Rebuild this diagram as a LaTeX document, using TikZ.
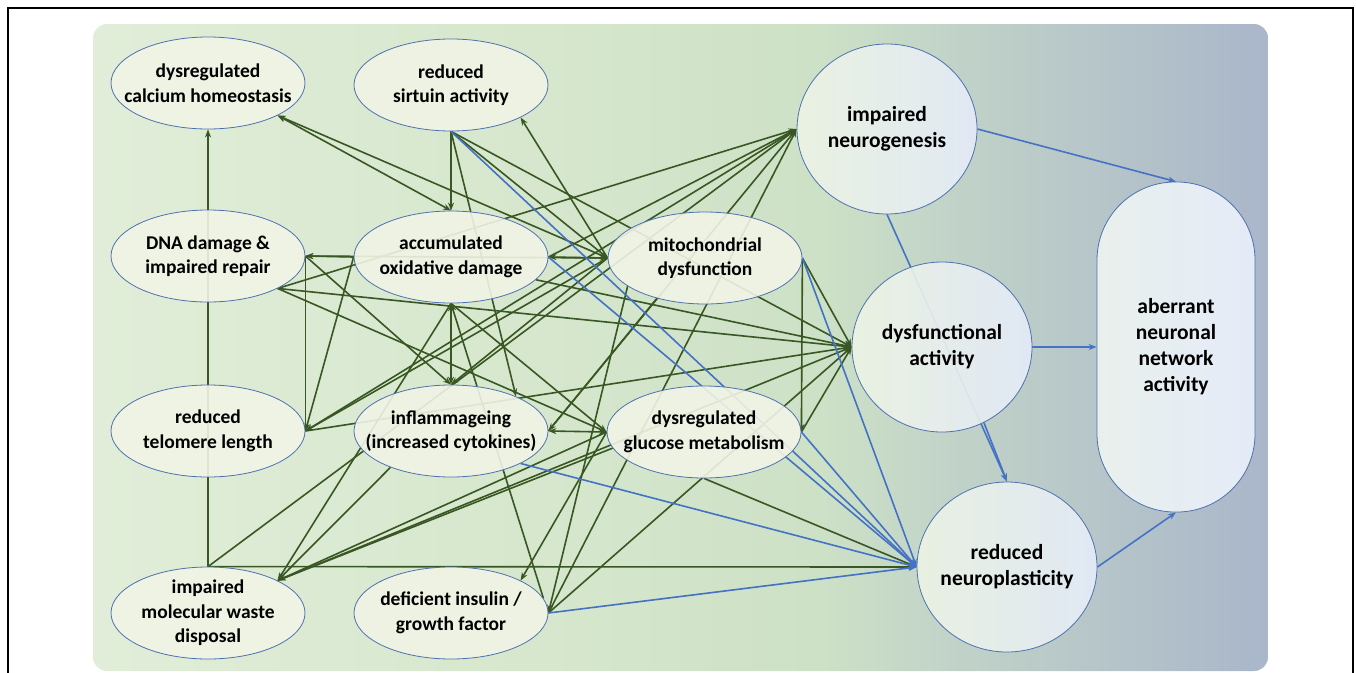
\documentclass[tikz,border=0pt]{standalone}
\usepackage{fontspec}
\setmainfont{Carlito}
\usetikzlibrary{shapes.geometric}
\usetikzlibrary{arrows.meta}

\definecolor{linkgreen}{RGB}{56,87,35}
\definecolor{linkblue}{RGB}{68,114,196}
\definecolor{ringblue}{RGB}{79,113,175}
\definecolor{hallfill}{RGB}{241,244,229}
\definecolor{outleft}{RGB}{236,243,228}
\definecolor{outright}{RGB}{228,235,248}
\definecolor{panelA}{RGB}{225,237,216}
\definecolor{panelB}{RGB}{214,231,205}
\definecolor{panelC}{RGB}{205,225,199}
\definecolor{panelD}{RGB}{192,210,200}
\definecolor{panelE}{RGB}{170,182,202}

\pgfdeclarehorizontalshading{panelshade}{100bp}{color(0bp)=(panelA); color(25bp)=(panelA);
  color(44bp)=(panelB); color(56bp)=(panelC); color(62bp)=(panelD); color(75bp)=(panelE);
  color(100bp)=(panelE)}

\pgfdeclarelayer{back}
\pgfdeclarelayer{edges}
\pgfsetlayers{back,edges,main}

\newcommand{\hmfont}{\fontsize{19.5}{24.5}\selectfont\bfseries}
\newcommand{\outfont}{\fontsize{21.5}{26}\selectfont\bfseries}

\tikzset{
  hallmark/.style = {ellipse, draw = ringblue, line width = 0.8pt, fill = hallfill,
    fill opacity = 0.9, minimum width = 194pt, minimum height = 92pt, inner sep = 0pt},
  outcome/.style = {ellipse, draw = ringblue, line width = 0.8pt, left color = outleft,
    right color = outright, fill opacity = 0.92, minimum width = 180pt,
    minimum height = 170pt, inner sep = 0pt},
  hmtext/.style = {font = \hmfont, align = center, text = black, text opacity = 1},
  outtext/.style = {font = \outfont, align = center, text = black, text opacity = 1},
  link/.style = {->, draw = linkgreen, line width = 1.6pt},
  bilink/.style = {<->, draw = linkgreen, line width = 1.6pt},
  blulink/.style = {->, draw = linkblue, line width = 1.6pt}
}

\begin{document}
\begin{tikzpicture}[x = 1pt, y = -1pt, >={Stealth[length = 8pt, width = 6pt]}]
  \useasboundingbox (0, 0) rectangle (1356, 672);

  \begin{pgfonlayer}{back}
    \draw[line width = 1.2pt] (8, 700) -- (8, 8) -- (1353, 8) -- (1353, 700);
    \shade[shading = panelshade, rounded corners = 14pt] (93, 24) rectangle (1268, 671);
  \end{pgfonlayer}

  % hallmarks
  \node[hallmark, label = {[hmtext]center:dysregulated\\calcium homeostasis}] (calc) at (208, 83) {};
  \node[hallmark, label = {[hmtext]center:reduced\\sirtuin activity}] (sirt) at (451, 85) {};
  \node[hallmark, label = {[hmtext]center:DNA damage \&\\impaired repair}] (dna) at (208, 256) {};
  \node[hallmark, label = {[hmtext]center:accumulated\\oxidative damage}] (oxid) at (451, 257) {};
  \node[hallmark, label = {[hmtext]center:mitochondrial\\dysfunction}] (mito) at (705, 258) {};
  \node[hallmark, label = {[hmtext]center:reduced\\telomere length}] (telo) at (208, 431) {};
  \node[hallmark, label = {[hmtext]center:inflammageing\\(increased cytokines)}] (infl) at (451, 431) {};
  \node[hallmark, label = {[hmtext]center:dysregulated\\glucose metabolism}] (gluc) at (704, 432) {};
  \node[hallmark, label = {[hmtext]center:impaired\\molecular waste\\disposal}] (waste) at (208, 613) {};
  \node[hallmark, label = {[hmtext]center:deficient insulin /\\growth factor}] (insul) at (451, 613) {};

  % outcomes
  \node[outcome, label = {[outtext]center:impaired\\neurogenesis}] (neurog) at (887, 129) {};
  \node[outcome, label = {[outtext]center:dysfunctional\\activity}] (dysf) at (942, 347) {};
  \node[outcome, label = {[outtext]center:reduced\\neuroplasticity}] (nplast) at (1007, 567) {};
  \node[draw = ringblue, line width = 0.8pt, left color = outleft!60!outright,
    right color = outright, rounded corners = 78pt, minimum width = 158pt,
    minimum height = 330pt, outtext] (aberr) at (1176, 347)
    {aberrant\\neuronal\\network\\activity};

  \begin{pgfonlayer}{edges}
    % calcium
    \draw[link] (waste.north) -- (calc.south);
    \draw[bilink] (calc.-25) -- (oxid.north);
    \draw[bilink] (calc.-25) -- (mito.west);
    % sirtuin
    \draw[link] (sirt.south) -- (oxid.north);
    \draw[link] (sirt.south) -- (infl.28);
    \draw[link] (sirt.south) -- (mito.west);
    \draw[link] (sirt.south) -- (dysf.west);
    \draw[link] (mito.west) -- (sirt.-25);
    % DNA damage
    \draw[link] (oxid.west) -- (dna.east);
    \draw[link] (mito.west) -- (dna.east);
    \draw[link] (dna.east) -- (infl.north);
    \draw[link] (dna.east) -- (telo.east);
    \draw[link] (dna.-25) -- (gluc.west);
    \draw[link] (dna.-25) -- (dysf.west);
    \draw[link] (dna.-25) -- (neurog.west);
    % oxidative damage
    \draw[bilink] (oxid.east) -- (mito.west);
    \draw[bilink] (oxid.south) -- (infl.north);
    \draw[link] (oxid.west) -- (telo.east);
    \draw[link] (oxid.south) -- (gluc.west);
    \draw[link] (oxid.south) -- (waste.25);
    \draw[link] (oxid.-15) -- (dysf.west);
    \draw[link] (oxid.east) -- (neurog.west);
    % mitochondria
    \draw[link] (mito.west) -- (telo.east);
    \draw[link] (mito.west) -- (infl.north);
    \draw[link] (mito.-140) -- (infl.east);
    \draw[link] (mito.-160) -- (insul.east);
    \draw[link] (mito.east) -- (gluc.east);
    \draw[link] (mito.east) -- (dysf.west);
    % telomere
    \draw[link] (telo.east) -- (dysf.west);
    \draw[link] (telo.east) -- (neurog.west);
    % inflammation
    \draw[bilink] (infl.east) -- (gluc.west);
    \draw[link] (infl.-149) -- (waste.25);
    \draw[link] (infl.east) -- (neurog.west);
    % glucose
    \draw[link] (gluc.west) -- (waste.25);
    \draw[link] (gluc.190) -- (waste.25);
    \draw[link] (gluc.west) -- (insul.25);
    \draw[link] (gluc.east) -- (dysf.west);
    \draw[link] (gluc.south) -- (nplast.west);
    % waste
    \draw[link] (waste.north) -- (nplast.west);
    \draw[link] (waste.north) -- (neurog.west);
    \draw[link] (waste.25) -- (dysf.west);
    % insulin
    \draw[link] (insul.9) -- (oxid.south);
    \draw[link] (insul.east) -- (dysf.west);
    \draw[link] (insul.east) -- (neurog.west);
    % towards plasticity and network
    \draw[blulink] (sirt.south) -- (nplast.west);
    \draw[blulink] (oxid.east) -- (nplast.west);
    \draw[blulink] (mito.east) -- (nplast.west);
    \draw[blulink] (gluc.east) -- (nplast.west);
    \draw[blulink] (infl.-25) -- (nplast.west);
    \draw[blulink] (insul.east) -- (nplast.west);
    \draw[blulink] (neurog.south) -- (nplast.north);
    \draw[blulink] (dysf.-61) -- (nplast.north);
    \draw[blulink] (neurog.east) -- (aberr.north);
    \draw[blulink] (dysf.east) -- (aberr.west);
    \draw[blulink] (nplast.east) -- (aberr.south);
  \end{pgfonlayer}
\end{tikzpicture}
\end{document}
